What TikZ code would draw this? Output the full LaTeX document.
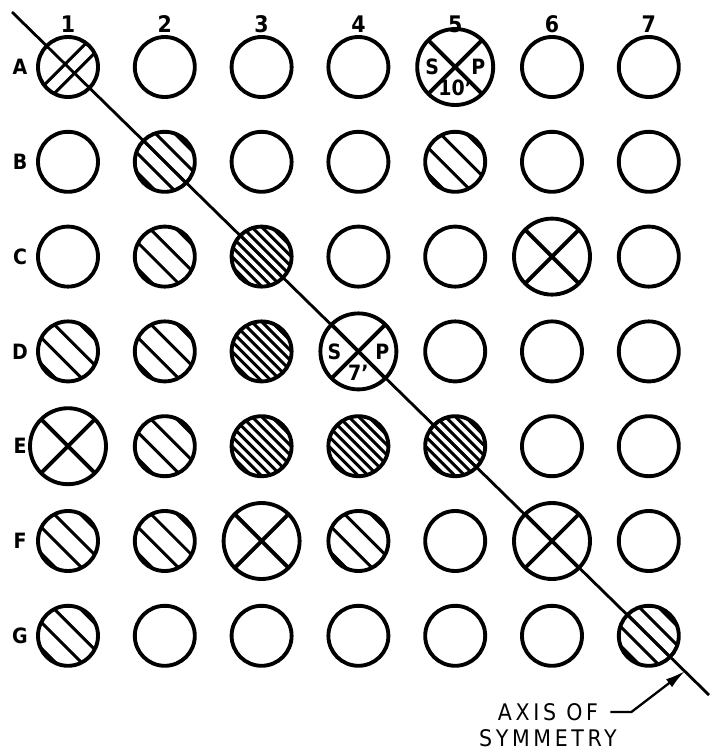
\documentclass[tikz,border=0pt]{standalone}
\usepackage{fontspec}
\setmainfont{DejaVu Sans Condensed}
\newfontfamily\spacedfont[LetterSpace=16]{DejaVu Sans Condensed}
\usetikzlibrary{arrows.meta, positioning}
\tikzset{
  ring/.style={circle, draw=black, line width=2.2pt, minimum size=12mm,
    inner sep=0pt, outer sep=0pt},
  hatchln/.style={line width=1.7pt},
  coarse/.style={ring, path picture={
      \foreach \d in {-27.75,-9.25,9.25,27.75}
        \draw[hatchln, shift={(path picture bounding box.center)}]
          ({0.7071*(\d-40)}, {-0.7071*(\d+40)}) -- ++(56.57,56.57);}},
  coarsemid/.style={ring, path picture={
      \foreach \d in {-27,-13.5,0,13.5,27}
        \draw[hatchln, shift={(path picture bounding box.center)}]
          ({0.7071*(\d-40)}, {-0.7071*(\d+40)}) -- ++(56.57,56.57);}},
  dense/.style={ring, path picture={
      \foreach \d in {-28,-21,-14,-7,0,7,14,21,28}
        \draw[hatchln, shift={(path picture bounding box.center)}]
          ({0.7071*(\d-40)}, {-0.7071*(\d+40)}) -- ++(56.57,56.57);}},
  crosshatch/.style={ring, path picture={
      \foreach \d in {-4,9}
        \draw[hatchln, shift={(path picture bounding box.center)}]
          ({0.7071*(\d-40)}, {0.7071*(\d+40)}) -- ++(56.57,-56.57);}},
  xring/.style={ring, minimum size=15.2mm, path picture={
      \draw[line width=2.2pt] (path picture bounding box.south west) -- (path picture bounding box.north east);
      \draw[line width=2.2pt] (path picture bounding box.north west) -- (path picture bounding box.south east);}},
  collbl/.style={font=\fontsize{13}{15}\selectfont\bfseries, inner sep=0pt},
  rowlbl/.style={font=\fontsize{12}{14}\selectfont\bfseries, inner sep=0pt},
  splbl/.style={font=\fontsize{12}{14}\selectfont\bfseries, inner sep=0pt},
  axislbl/.style={font=\fontsize{13}{15}\selectfont\spacedfont, inner sep=0pt},
  axisline/.style={line width=1.6pt},
  pointer/.style={-{Latex[length=4mm, width=2mm]}, line width=1.3pt}
}

\begin{document}
\begin{tikzpicture}[x=0.2mm, y=-0.2mm]
  \useasboundingbox (0,0) rectangle (709,754);

  % column numbers
  \foreach \c in {1,...,7}
    \node[collbl] (col\c) at ({68+96.8*(\c-1)}, 24) {\c};

  % rows of rings
  \foreach \rw/\lst [count=\r] in {
      A/{crosshatch,ring,ring,ring,xring,ring,ring},
      B/{ring,coarsemid,ring,ring,coarse,ring,ring},
      C/{ring,coarse,dense,ring,ring,xring,ring},
      D/{coarse,coarse,dense,xring,ring,ring,ring},
      E/{xring,coarse,dense,dense,dense,ring,ring},
      F/{coarse,coarse,xring,coarse,ring,xring,ring},
      G/{coarse,ring,ring,ring,ring,ring,coarsemid}}{
    \node[rowlbl] (lbl\rw) at (20, {67+94.8*(\r-1)}) {\rw};
    \foreach \s [count=\c] in \lst
      \node[\s] (\rw\c) at ({68+96.8*(\c-1)}, {67+94.8*(\r-1)}) {};
  }

  % S / P marks
  \node[splbl, xshift=-4.6mm] (A5s) at (A5) {S};
  \node[splbl, xshift=4.6mm] (A5p) at (A5) {P};
  \node[splbl, yshift=-4.2mm] (A5t) at (A5) {10'};
  \node[splbl, xshift=-4.8mm] (D4s) at (D4) {S};
  \node[splbl, xshift=4.8mm] (D4p) at (D4) {P};
  \node[splbl, yshift=-4.2mm] (D4t) at (D4) {7'};

  % axis of symmetry
  \coordinate (axstart) at (12,12);
  \coordinate (axend) at (709,695);
  \draw[axisline] (axstart) -- (axend);

  \coordinate (axtip) at (685,671);
  \node[axislbl] (axt) at (548,712) {AXIS OF};
  \node[axislbl] (axs) at (548,738) {SYMMETRY};
  \draw[pointer] ([xshift=2.4mm]axt.east) -- ++(21,0) -- (axtip);
\end{tikzpicture}
\end{document}
